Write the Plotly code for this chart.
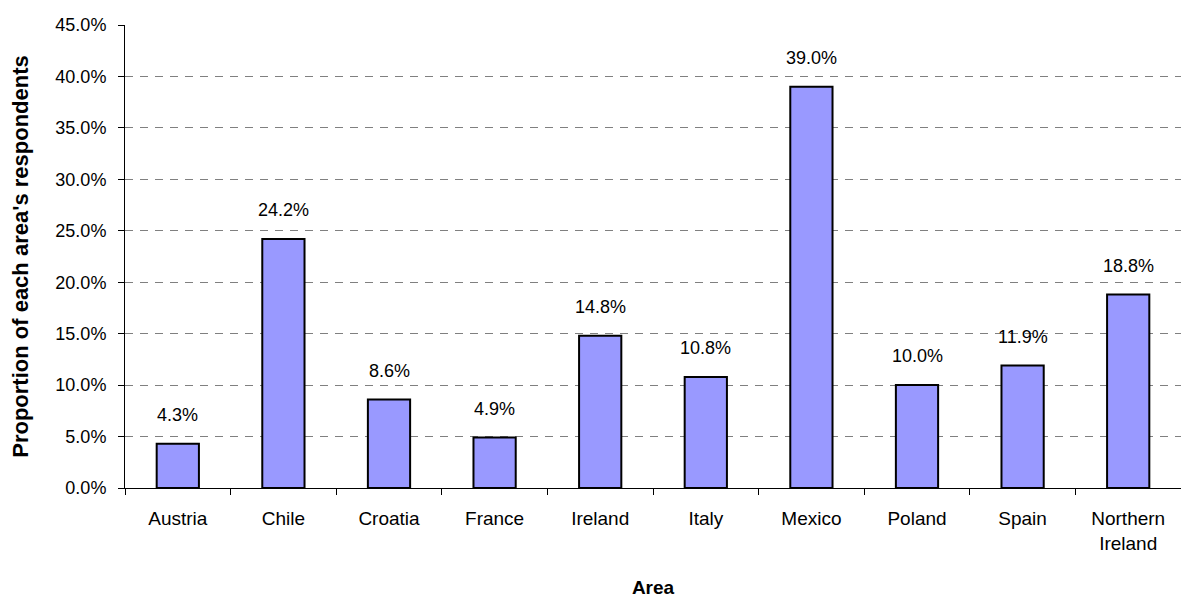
import plotly.graph_objects as go

categories = ["Austria", "Chile", "Croatia", "France", "Ireland", "Italy",
              "Mexico", "Poland", "Spain", "Northern<br>Ireland"]
values = [4.3, 24.2, 8.6, 4.9, 14.8, 10.8, 39.0, 10.0, 11.9, 18.8]
labels = ["4.3%", "24.2%", "8.6%", "4.9%", "14.8%", "10.8%", "39.0%", "10.0%", "11.9%", "18.8%"]
yticks = [0, 5, 10, 15, 20, 25, 30, 35, 40, 45]
yticktext = ["%.1f%%" % v for v in yticks]

font = "Liberation Sans, Arial, sans-serif"

fig = go.Figure()
fig.add_trace(go.Bar(
    x=categories, y=values, width=0.4,
    marker=dict(color="#9999FF", line=dict(color="black", width=2)),
    hoverinfo="skip",
))
for c, v, t in zip(categories, values, labels):
    fig.add_annotation(x=c, y=v, text=t, showarrow=False, yanchor="bottom",
                       yshift=17, font=dict(family=font, size=18, color="black"))

fig.update_layout(
    width=1181, height=598,
    margin=dict(l=125, r=0, t=25, b=110),
    paper_bgcolor="white", plot_bgcolor="white",
    showlegend=False,
    font=dict(family=font, size=18, color="black"),
)
fig.update_yaxes(
    range=[0, 45], tickvals=yticks, ticktext=yticktext,
    tickfont=dict(family=font, size=18, color="black"),
    showgrid=True, gridcolor="#808080", griddash="8px,7px", gridwidth=1,
    showline=True, linecolor="black", linewidth=1,
    ticks="outside", ticklen=6, tickcolor="black", ticklabelstandoff=8,
    zeroline=False,
    title=dict(text="<b>Proportion of each area's respondents</b>",
               font=dict(family=font, size=22), standoff=20),
)
fig.update_xaxes(
    tickson="boundaries", ticks="outside", ticklen=6, tickcolor="black",
    tickfont=dict(family=font, size=19, color="black"), ticklabelstandoff=13,
    showline=True, linecolor="black", linewidth=1,
    title=dict(text="<b>Area</b>", font=dict(family=font, size=19), standoff=30),
)

fig.write_html("out.html", config={"displayModeBar": False},
               post_script="document.body.style.margin='0';document.body.style.overflow='hidden';")
